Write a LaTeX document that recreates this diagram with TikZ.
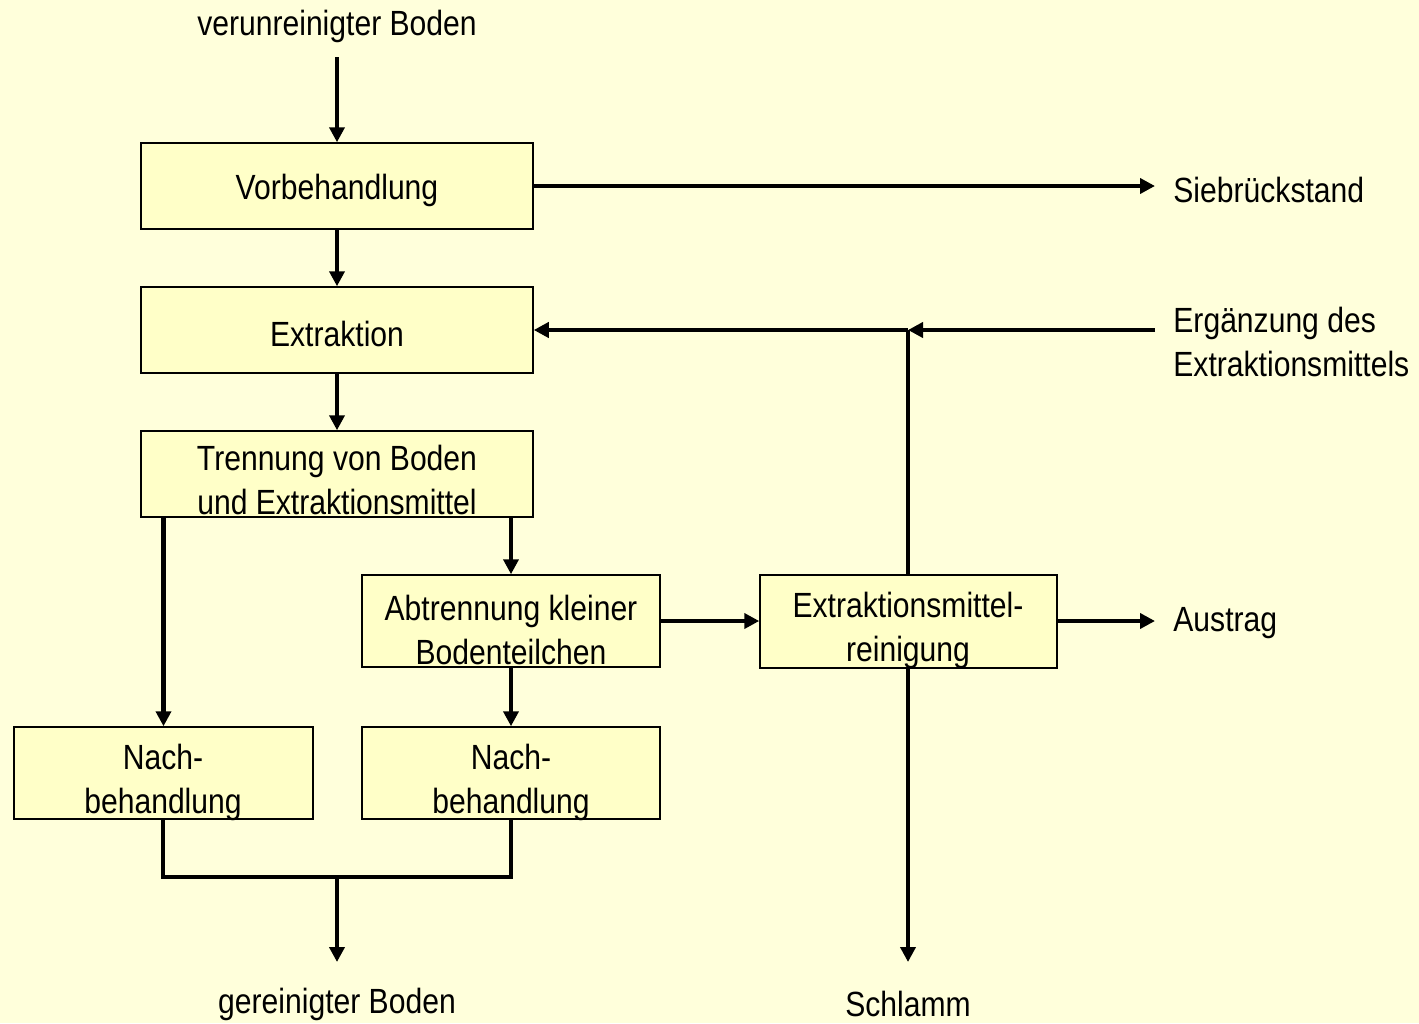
\documentclass[tikz,border=0pt]{standalone}
\usepackage{fontspec}
\setmainfont{Liberation Sans}[FakeStretch=0.86]
\usetikzlibrary{arrows.meta}
\definecolor{bg}{HTML}{FFFFDB}
\definecolor{boxfill}{HTML}{FFFFC8}
\begin{document}
\begin{tikzpicture}[x=0.5pt,y=-0.5pt,
  box/.style={draw=black,line width=0.75pt,fill=boxfill,inner sep=0pt},
  txt/.style={font=\fontsize{17.5pt}{22pt}\selectfont,align=center,inner sep=0pt},
  ltxt/.style={txt,align=left,anchor=west},
  flow/.style={line width=2.2pt,-{Triangle[length=7.5pt,width=7.5pt]}},
  plain/.style={line width=2.2pt}]
\fill[bg] (0,0) rectangle (1419,1023);
\useasboundingbox (0,0) rectangle (1419,1023);
% boxes
\node[box,minimum width=196pt,minimum height=43pt] (vor) at (337,186) {};
\node[box,minimum width=196pt,minimum height=43pt] (ext) at (337,330) {};
\node[box,minimum width=196pt,minimum height=43pt] (tre) at (337,474) {};
\node[box,minimum width=149pt,minimum height=46pt] (abt) at (511,621) {};
\node[box,minimum width=148.5pt,minimum height=46.5pt] (rein) at (908.5,621.5) {};
\node[box,minimum width=149.5pt,minimum height=46pt] (nachL) at (163.5,773) {};
\node[box,minimum width=149pt,minimum height=46pt] (nachR) at (511,773) {};
% box texts
\node[txt] (tvor) at (337,190) {Vorbehandlung};
\node[txt] (text) at (337,334) {Extraktion};
\node[txt] (ttre) at (337,480) {Trennung von Boden\\und Extraktionsmittel};
\node[txt] (tabt) at (511,630) {Abtrennung kleiner\\Bodenteilchen};
\node[txt] (trein) at (908,630) {Extraktionsmittel-\\reinigung};
\node[txt] (tnachL) at (163,782) {Nach-\\behandlung};
\node[txt] (tnachR) at (511,782) {Nach-\\behandlung};
% outside labels
\node[txt] (in) at (337,26) {verunreinigter Boden};
\node[ltxt] (sieb) at (1173,190) {Siebrückstand};
\node[ltxt] (erg) at (1173,342) {Ergänzung des\\Extraktionsmittels};
\node[ltxt] (aus) at (1173,623) {Austrag};
\node[txt] (out) at (337,1004) {gereinigter Boden};
\node[txt] (schl) at (908,1004) {Schlamm};
% coordinates
\coordinate (inS) at (337,57);
\coordinate (siebE) at (1155,186);
\coordinate (ergS) at (1155,330);
\coordinate (junc) at (908,330);
\coordinate (ausE) at (1155,621);
\coordinate (schlE) at (908,962);
\coordinate (outE) at (337,962);
\coordinate (mergeL) at (163,877);
\coordinate (mergeR) at (511,877);
\coordinate (mergeM) at (337,877);
% connectors
\draw[flow] (inS) -- (vor.north);
\draw[flow] (vor.east) -- (siebE);
\draw[flow] (vor.south) -- (ext.north);
\draw[flow] (ergS) -- (junc);
\draw[flow] (junc) -- (ext.east);
\draw[plain] (rein.north -| junc) -- (junc);
\draw[flow] (ext.south) -- (tre.north);
\draw[flow] (tre.south -| nachL.north) -- (nachL.north);
\draw[flow] (tre.south -| abt.north) -- (abt.north);
\draw[flow] (abt.east) -- (abt.east -| rein.west);
\draw[flow] (abt.south) -- (nachR.north);
\draw[flow] (rein.east |- abt.east) -- (ausE);
\draw[flow] (rein.south -| junc) -- (schlE);
\draw[plain,line join=miter] (nachL.south -| mergeL) -- (mergeL) -- (mergeR) -- (nachR.south -| mergeR);
\draw[flow] (mergeM) -- (outE);
\end{tikzpicture}
\end{document}
